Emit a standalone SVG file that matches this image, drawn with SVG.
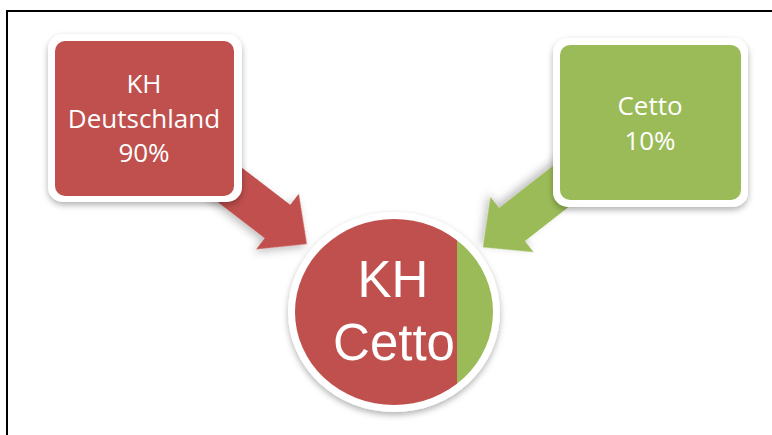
<svg xmlns="http://www.w3.org/2000/svg" width="772" height="435" viewBox="0 0 772 435">
<style>
.lbl{font-family:"Open Sans","Liberation Sans",sans-serif;fill:#fff;text-anchor:middle}
.box{font-size:26px}
.big{font-family:"Liberation Sans","Open Sans",sans-serif;font-size:51px}
.red{fill:#C0504D}
.green{fill:#9BBB59}
.ring{fill:#fff}
</style>
<defs>
<filter id="sh" x="-20%" y="-20%" width="140%" height="150%">
<feDropShadow dx="0" dy="3" stdDeviation="3" flood-color="#000" flood-opacity="0.3"/>
</filter>
<filter id="ash" x="-30%" y="-30%" width="160%" height="160%">
<feDropShadow dx="0" dy="4" stdDeviation="4" flood-color="#000" flood-opacity="0.25"/>
</filter>
<clipPath id="cc"><ellipse cx="394" cy="312" rx="99" ry="93"/></clipPath>
<polygon id="arr" points="-110,-21 0,-21 0,-35 37,0 0,35 0,21 -110,21"/>
</defs>
<rect width="772" height="435" fill="#fff"/>
<path d="M7,435 V11 H772" fill="none" stroke="#000" stroke-width="2"/>
<g id="connectors">
<use href="#arr" class="red" filter="url(#ash)" transform="translate(277.5,221.5) rotate(37.5)"/>
<use href="#arr" class="green" filter="url(#ash)" transform="translate(512,224.5) rotate(142)"/>
</g>
<g id="kh-deutschland">
<rect x="48" y="34" width="194" height="168" rx="15" class="ring" filter="url(#sh)"/>
<rect x="55" y="41" width="179" height="155" rx="10" class="red"/>
<text class="lbl box" x="144" y="93">KH</text>
<text class="lbl box" x="144" y="128">Deutschland</text>
<text class="lbl box" x="144" y="162">90%</text>
</g>
<g id="cetto">
<rect x="553" y="38" width="195" height="169" rx="15" class="ring" filter="url(#sh)"/>
<rect x="560" y="45" width="181" height="155" rx="10" class="green"/>
<text class="lbl box" x="650" y="115">Cetto</text>
<text class="lbl box" x="650" y="150">10%</text>
</g>
<g id="kh-cetto">
<ellipse cx="394" cy="312" rx="106" ry="100" class="ring" filter="url(#sh)"/>
<g clip-path="url(#cc)">
<rect x="290" y="215" width="167" height="195" class="red"/>
<rect x="457" y="215" width="40" height="195" class="green"/>
</g>
<text class="lbl big" x="393" y="297">KH</text>
<text class="lbl big" x="394" y="360">Cetto</text>
</g>
</svg>
